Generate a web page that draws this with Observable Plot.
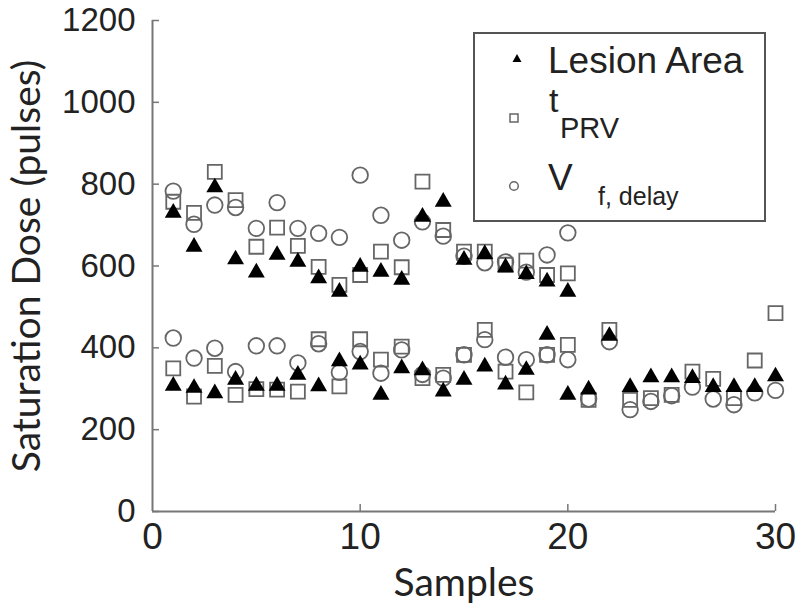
<!DOCTYPE html>
<html>
<head>
<meta charset="utf-8">
<script src="https://cdn.jsdelivr.net/npm/d3@7"></script>
<script src="https://cdn.jsdelivr.net/npm/@observablehq/plot@0.6"></script>
<style>
  html, body { margin: 0; padding: 0; background: #fff; }
  #wrap { position: relative; width: 800px; height: 605px; }
  #legend { position: absolute; left: 0; top: 0; pointer-events: none; }
</style>
</head>
<body>
<div id="wrap"></div>
<script>
// Samples 1..20 have an upper-cluster reading; samples 1..30 have a lower-cluster reading
const samplesUpper = d3.range(1, 21);
const samplesLower = d3.range(1, 31);

const lesionUpper = [730, 647, 792, 616, 584, 627, 610, 570, 537, 598, 586, 566, 720, 757, 615, 629, 597, 580, 562, 537];
const prvUpper    = [757, 730, 830, 761, 647, 694, 649, 598, 554, 578, 635, 597, 806, 688, 635, 635, 603, 613, 578, 582];
const vfUpper     = [783, 702, 749, 743, 692, 755, 692, 680, 670, 822, 724, 663, 708, 673, 624, 608, 610, 585, 627, 681];

const lesionLower = [307, 302, 289, 322, 307, 307, 334, 306, 367, 359, 285, 350, 345, 293, 322, 354, 310, 346, 432, 285, 298, 429, 304, 328, 328, 326, 304, 304, 304, 330];
const prvLower    = [350, 281, 356, 285, 299, 298, 293, 421, 306, 421, 371, 403, 326, 334, 383, 444, 342, 291, 383, 407, 273, 444, 273, 277, 285, 342, 324, 277, 369, 485];
const vfLower     = [424, 375, 399, 342, 405, 405, 363, 410, 340, 391, 338, 395, 335, 326, 383, 420, 377, 371, 383, 371, 275, 415, 249, 269, 283, 304, 275, 261, 290, 296];

const xTicks = [0, 10, 20, 30];
const yTicks = [0, 200, 400, 600, 800, 1000, 1200];
const xLabel = "Samples";
const yLabel = "Saturation Dose (pulses)";

function pts(xs, ys) { return xs.map((x, i) => ({x, y: ys[i]})); }
const lesion = [...pts(samplesUpper, lesionUpper), ...pts(samplesLower, lesionLower)];
const prv    = [...pts(samplesUpper, prvUpper),    ...pts(samplesLower, prvLower)];
const vf     = [...pts(samplesUpper, vfUpper),     ...pts(samplesLower, vfLower)];

const axisColor = "#777";
const markerGray = "#666";
const plain = d3.format("d");

const chart = Plot.plot({
  width: 800,
  height: 605,
  marginLeft: 152,
  marginRight: 25,
  marginTop: 20,
  marginBottom: 94,
  x: {domain: [0, 30]},
  y: {domain: [0, 1200]},
  style: {fontFamily: "'Liberation Sans', Arial, sans-serif", background: "white", color: "#222"},
  marks: [
    Plot.ruleX([0], {stroke: axisColor, strokeWidth: 2}),
    Plot.ruleY([0], {stroke: axisColor, strokeWidth: 2}),
    Plot.axisY(yTicks, {tickSize: -7, fill: "none", label: null, stroke: axisColor, strokeWidth: 1.5}),
    Plot.axisY(yTicks, {tickSize: 0, tickPadding: 17, fontSize: 33, label: null, tickFormat: plain}),
    Plot.axisX(xTicks.filter(d => d > 0), {tickSize: -7, fill: "none", label: null, stroke: axisColor, strokeWidth: 1.5}),
    Plot.axisX(xTicks, {tickSize: 0, tickPadding: 11, fontSize: 37, label: null, tickFormat: plain}),
    Plot.axisY([], {tickSize: 0, label: yLabel, labelAnchor: "center", labelOffset: 140, labelArrow: "none", fontSize: 39, fontFamily: "Lato", dy: -8}),
    Plot.axisX([], {tickSize: 0, label: xLabel, labelAnchor: "center", labelOffset: 84, labelArrow: "none", fontSize: 39, fontFamily: "Lato", dx: -4}),
    Plot.dot(prv, {x: "x", y: "y", symbol: "square", r: 7.9, stroke: markerGray, strokeWidth: 1.8, fill: "none"}),
    Plot.dot(vf, {x: "x", y: "y", symbol: "circle", r: 7.8, stroke: markerGray, strokeWidth: 1.8, fill: "none"}),
    Plot.dot(lesion, {x: "x", y: "y", symbol: "triangle", r: 6.3, fill: "black", stroke: "none"})
  ]
});

const wrap = document.getElementById("wrap");
wrap.appendChild(chart);

// Legend overlay (inside the plot area, top right)
const ns = "http://www.w3.org/2000/svg";
const lg = document.createElementNS(ns, "svg");
lg.setAttribute("id", "legend");
lg.setAttribute("width", 800);
lg.setAttribute("height", 605);
lg.innerHTML = `
  <rect x="474" y="33" width="291" height="188" fill="white" stroke="#555" stroke-width="2"/>
  <path d="M517,54 L521.5,62 L512.5,62 Z" fill="black"/>
  <rect x="510" y="114" width="8" height="8" fill="none" stroke="#666" stroke-width="1.5"/>
  <circle cx="514" cy="186" r="4.3" fill="none" stroke="#666" stroke-width="1.5"/>
  <g font-family="'Liberation Sans', Arial, sans-serif" fill="#222">
    <text x="548" y="73" font-size="37">Lesion Area</text>
    <text x="549" y="112" font-size="34">t</text>
    <text x="560" y="138" font-size="29">PRV</text>
    <text x="548" y="190" font-size="37">V</text>
    <text x="598" y="205" font-size="25">f, delay</text>
  </g>`;
wrap.appendChild(lg);
</script>
</body>
</html>
